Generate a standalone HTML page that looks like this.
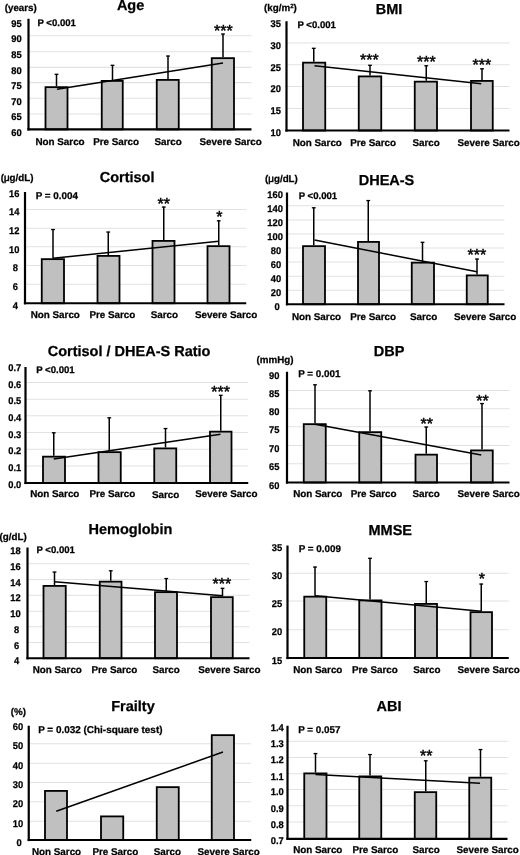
<!DOCTYPE html>
<html><head><meta charset="utf-8"><title>Sarcopenia figure</title>
<style>
html,body{margin:0;padding:0;background:#fff;}
body{width:520px;height:855px;overflow:hidden;}
svg{display:block;will-change:transform;}
text{text-rendering:geometricPrecision;font-family:"Liberation Sans",sans-serif;font-weight:bold;fill:#000;stroke:#000;stroke-width:0.25px;}
.s{font-size:9.6px;}
.t{font-size:14.5px;}
.st{font-size:16.0px;font-weight:normal;stroke-width:0.45px;}
.c{font-size:9.85px;}
.pe{font-size:9.85px;}
.p9{font-size:9.95px;}
.k{font-size:9.75px;}
.sup{font-size:6px;}
.u{font-size:9.8px;}
.mu{font-weight:normal;stroke-width:0.5px;}
</style></head><body>
<svg width="520" height="855" viewBox="0 0 520 855">
<rect width="520" height="855" fill="#fff"/>
<g>
<line x1="28.5" y1="35.75" x2="251.5" y2="35.75" stroke="#e2e2e2" stroke-width="1.2"/>
<line x1="28.5" y1="51.75" x2="251.5" y2="51.75" stroke="#e2e2e2" stroke-width="1.2"/>
<line x1="28.5" y1="67.3" x2="251.5" y2="67.3" stroke="#e2e2e2" stroke-width="1.2"/>
<line x1="28.5" y1="82.7" x2="251.5" y2="82.7" stroke="#e2e2e2" stroke-width="1.2"/>
<line x1="28.5" y1="98.25" x2="251.5" y2="98.25" stroke="#e2e2e2" stroke-width="1.2"/>
<line x1="28.5" y1="114" x2="251.5" y2="114" stroke="#e2e2e2" stroke-width="1.2"/>
<rect x="45.5" y="87.15" width="22" height="42.25" fill="#c0c0c0" stroke="#000" stroke-width="1.8"/>
<rect x="101.75" y="80.9" width="21" height="48.5" fill="#c0c0c0" stroke="#000" stroke-width="1.8"/>
<rect x="156.75" y="79.9" width="22" height="49.5" fill="#c0c0c0" stroke="#000" stroke-width="1.8"/>
<rect x="211.75" y="58.15" width="22.25" height="71.25" fill="#c0c0c0" stroke="#000" stroke-width="1.8"/>
<line x1="56.5" y1="86.25" x2="56.5" y2="74" stroke="#000" stroke-width="1.5"/>
<line x1="54.6" y1="74.3" x2="58.4" y2="74.3" stroke="#000" stroke-width="1.3"/>
<line x1="112.5" y1="80" x2="112.5" y2="65" stroke="#000" stroke-width="1.5"/>
<line x1="110.6" y1="65.3" x2="114.4" y2="65.3" stroke="#000" stroke-width="1.3"/>
<line x1="168" y1="79" x2="168" y2="55.75" stroke="#000" stroke-width="1.5"/>
<line x1="166.1" y1="56.05" x2="169.9" y2="56.05" stroke="#000" stroke-width="1.3"/>
<line x1="223" y1="57.25" x2="223" y2="33.75" stroke="#000" stroke-width="1.5"/>
<line x1="221.1" y1="34.05" x2="224.9" y2="34.05" stroke="#000" stroke-width="1.3"/>
<line x1="57" y1="89.25" x2="223" y2="63" stroke="#000" stroke-width="1.5"/>
<line x1="28.5" y1="18.75" x2="28.5" y2="130.5" stroke="#000" stroke-width="2.2"/>
<line x1="27.4" y1="129.4" x2="251.5" y2="129.4" stroke="#000" stroke-width="2.2"/>
<text transform="translate(21.7,26.81) scale(0.96,1)" text-anchor="end" class="k">95</text>
<text transform="translate(21.7,42.06) scale(0.96,1)" text-anchor="end" class="k">90</text>
<text transform="translate(21.7,58.06) scale(0.96,1)" text-anchor="end" class="k">85</text>
<text transform="translate(21.7,73.61) scale(0.96,1)" text-anchor="end" class="k">80</text>
<text transform="translate(21.7,89.01) scale(0.96,1)" text-anchor="end" class="k">75</text>
<text transform="translate(21.7,104.56) scale(0.96,1)" text-anchor="end" class="k">70</text>
<text transform="translate(21.7,120.31) scale(0.96,1)" text-anchor="end" class="k">65</text>
<text transform="translate(21.7,135.71) scale(0.96,1)" text-anchor="end" class="k">60</text>
<text x="214.1" y="35.51" class="st">***</text>
<text x="37.4" y="26.1" class="s">P <0.001</text>
<text x="130.6" y="10.1" text-anchor="middle" class="t">Age</text>
<text x="4.7" y="10.71" class="u">(years)</text>
<text x="35.4" y="144.93" class="c">Non Sarco</text>
<text x="93.15" y="144.93" class="c">Pre Sarco</text>
<text x="154.4" y="144.93" class="c">Sarco</text>
<text x="199.4" y="144.93" class="c">Severe Sarco</text>
</g>
<g>
<line x1="286.5" y1="43" x2="509.5" y2="43" stroke="#e2e2e2" stroke-width="1.2"/>
<line x1="286.5" y1="64.75" x2="509.5" y2="64.75" stroke="#e2e2e2" stroke-width="1.2"/>
<line x1="286.5" y1="86.5" x2="509.5" y2="86.5" stroke="#e2e2e2" stroke-width="1.2"/>
<line x1="286.5" y1="108.5" x2="509.5" y2="108.5" stroke="#e2e2e2" stroke-width="1.2"/>
<rect x="303" y="62.65" width="22.25" height="67.85" fill="#c0c0c0" stroke="#000" stroke-width="1.8"/>
<rect x="358.75" y="76.4" width="22.5" height="54.1" fill="#c0c0c0" stroke="#000" stroke-width="1.8"/>
<rect x="414.75" y="81.65" width="22.25" height="48.85" fill="#c0c0c0" stroke="#000" stroke-width="1.8"/>
<rect x="471" y="80.9" width="21.75" height="49.6" fill="#c0c0c0" stroke="#000" stroke-width="1.8"/>
<line x1="313.75" y1="61.75" x2="313.75" y2="48" stroke="#000" stroke-width="1.5"/>
<line x1="311.85" y1="48.3" x2="315.65" y2="48.3" stroke="#000" stroke-width="1.3"/>
<line x1="370" y1="75.5" x2="370" y2="65" stroke="#000" stroke-width="1.5"/>
<line x1="368.1" y1="65.3" x2="371.9" y2="65.3" stroke="#000" stroke-width="1.3"/>
<line x1="426.25" y1="80.75" x2="426.25" y2="65.5" stroke="#000" stroke-width="1.5"/>
<line x1="424.35" y1="65.8" x2="428.15" y2="65.8" stroke="#000" stroke-width="1.3"/>
<line x1="482" y1="80" x2="482" y2="68.5" stroke="#000" stroke-width="1.5"/>
<line x1="480.1" y1="68.8" x2="483.9" y2="68.8" stroke="#000" stroke-width="1.3"/>
<line x1="314.5" y1="65.75" x2="481.25" y2="83.75" stroke="#000" stroke-width="1.5"/>
<line x1="286.5" y1="21.25" x2="286.5" y2="131.6" stroke="#000" stroke-width="2.2"/>
<line x1="285.4" y1="130.5" x2="509.5" y2="130.5" stroke="#000" stroke-width="2.2"/>
<text transform="translate(280.85,27.16) scale(0.96,1)" text-anchor="end" class="k">35</text>
<text transform="translate(280.85,48.91) scale(0.96,1)" text-anchor="end" class="k">30</text>
<text transform="translate(280.85,70.66) scale(0.96,1)" text-anchor="end" class="k">25</text>
<text transform="translate(280.85,92.41) scale(0.96,1)" text-anchor="end" class="k">20</text>
<text transform="translate(280.85,114.41) scale(0.96,1)" text-anchor="end" class="k">15</text>
<text transform="translate(280.85,136.41) scale(0.96,1)" text-anchor="end" class="k">10</text>
<text x="360" y="65.01" class="st">***</text>
<text x="417" y="66.76" class="st">***</text>
<text x="472.5" y="69.76" class="st">***</text>
<text x="297.4" y="27.85" class="s">P <0.001</text>
<text x="389.1" y="14.25" text-anchor="middle" class="t">BMI</text>
<text x="264" y="10.96" class="u">(kg/m<tspan class="sup" dy="-2.8">2</tspan><tspan dy="2.8">)</tspan></text>
<text x="292.65" y="146.43" class="c">Non Sarco</text>
<text x="350.15" y="146.43" class="c">Pre Sarco</text>
<text x="412.4" y="146.43" class="c">Sarco</text>
<text x="457.4" y="146.43" class="c">Severe Sarco</text>
</g>
<g>
<line x1="25" y1="209.5" x2="246.25" y2="209.5" stroke="#e2e2e2" stroke-width="1.2"/>
<line x1="25" y1="228.25" x2="246.25" y2="228.25" stroke="#e2e2e2" stroke-width="1.2"/>
<line x1="25" y1="246.75" x2="246.25" y2="246.75" stroke="#e2e2e2" stroke-width="1.2"/>
<line x1="25" y1="265.5" x2="246.25" y2="265.5" stroke="#e2e2e2" stroke-width="1.2"/>
<line x1="25" y1="284.25" x2="246.25" y2="284.25" stroke="#e2e2e2" stroke-width="1.2"/>
<rect x="41.75" y="259.15" width="22.25" height="44.1" fill="#c0c0c0" stroke="#000" stroke-width="1.8"/>
<rect x="97.5" y="255.9" width="22" height="47.35" fill="#c0c0c0" stroke="#000" stroke-width="1.8"/>
<rect x="152.5" y="240.9" width="22" height="62.35" fill="#c0c0c0" stroke="#000" stroke-width="1.8"/>
<rect x="207.5" y="246.15" width="22" height="57.1" fill="#c0c0c0" stroke="#000" stroke-width="1.8"/>
<line x1="53" y1="258.25" x2="53" y2="229.25" stroke="#000" stroke-width="1.5"/>
<line x1="51.1" y1="229.55" x2="54.9" y2="229.55" stroke="#000" stroke-width="1.3"/>
<line x1="108.25" y1="255" x2="108.25" y2="231.75" stroke="#000" stroke-width="1.5"/>
<line x1="106.35" y1="232.05" x2="110.15" y2="232.05" stroke="#000" stroke-width="1.3"/>
<line x1="163.75" y1="240" x2="163.75" y2="206.75" stroke="#000" stroke-width="1.5"/>
<line x1="161.85" y1="207.05" x2="165.65" y2="207.05" stroke="#000" stroke-width="1.3"/>
<line x1="218.75" y1="245.25" x2="218.75" y2="220.5" stroke="#000" stroke-width="1.5"/>
<line x1="216.85" y1="220.8" x2="220.65" y2="220.8" stroke="#000" stroke-width="1.3"/>
<line x1="53" y1="258.25" x2="218.75" y2="241.25" stroke="#000" stroke-width="1.5"/>
<line x1="25" y1="192" x2="25" y2="304.35" stroke="#000" stroke-width="2.2"/>
<line x1="23.9" y1="303.25" x2="246.25" y2="303.25" stroke="#000" stroke-width="2.2"/>
<text transform="translate(19.55,196.66) scale(0.96,1)" text-anchor="end" class="k">16</text>
<text transform="translate(19.55,215.41) scale(0.96,1)" text-anchor="end" class="k">14</text>
<text transform="translate(19.55,234.16) scale(0.96,1)" text-anchor="end" class="k">12</text>
<text transform="translate(19.55,252.66) scale(0.96,1)" text-anchor="end" class="k">10</text>
<text transform="translate(17.85,271.41) scale(0.96,1)" text-anchor="end" class="k">8</text>
<text transform="translate(17.85,290.16) scale(0.96,1)" text-anchor="end" class="k">6</text>
<text transform="translate(17.85,309.16) scale(0.96,1)" text-anchor="end" class="k">4</text>
<text x="157.5" y="208.51" class="st">**</text>
<text x="216.25" y="221.76" class="st">*</text>
<text x="35.65" y="198.6" class="pe">P = 0.004</text>
<text x="127.1" y="182" text-anchor="middle" class="t">Cortisol</text>
<text x="0.7" y="180.71" class="u">(<tspan class="mu">μ</tspan>g/dL)</text>
<text x="30.65" y="318.43" class="c">Non Sarco</text>
<text x="89.4" y="318.43" class="c">Pre Sarco</text>
<text x="150.65" y="318.43" class="c">Sarco</text>
<text x="194.9" y="318.43" class="c">Severe Sarco</text>
</g>
<g>
<line x1="287" y1="205.75" x2="504.5" y2="205.75" stroke="#e2e2e2" stroke-width="1.2"/>
<line x1="287" y1="220" x2="504.5" y2="220" stroke="#e2e2e2" stroke-width="1.2"/>
<line x1="287" y1="234" x2="504.5" y2="234" stroke="#e2e2e2" stroke-width="1.2"/>
<line x1="287" y1="248" x2="504.5" y2="248" stroke="#e2e2e2" stroke-width="1.2"/>
<line x1="287" y1="262" x2="504.5" y2="262" stroke="#e2e2e2" stroke-width="1.2"/>
<line x1="287" y1="276.25" x2="504.5" y2="276.25" stroke="#e2e2e2" stroke-width="1.2"/>
<line x1="287" y1="290.25" x2="504.5" y2="290.25" stroke="#e2e2e2" stroke-width="1.2"/>
<rect x="303" y="246.15" width="22" height="58.1" fill="#c0c0c0" stroke="#000" stroke-width="1.8"/>
<rect x="358" y="241.9" width="21" height="62.35" fill="#c0c0c0" stroke="#000" stroke-width="1.8"/>
<rect x="411.75" y="262.65" width="22.25" height="41.6" fill="#c0c0c0" stroke="#000" stroke-width="1.8"/>
<rect x="466.75" y="275.4" width="21" height="28.85" fill="#c0c0c0" stroke="#000" stroke-width="1.8"/>
<line x1="313.75" y1="245.25" x2="313.75" y2="207.5" stroke="#000" stroke-width="1.5"/>
<line x1="311.85" y1="207.8" x2="315.65" y2="207.8" stroke="#000" stroke-width="1.3"/>
<line x1="368.25" y1="241" x2="368.25" y2="200.25" stroke="#000" stroke-width="1.5"/>
<line x1="366.35" y1="200.55" x2="370.15" y2="200.55" stroke="#000" stroke-width="1.3"/>
<line x1="422.5" y1="261.75" x2="422.5" y2="242" stroke="#000" stroke-width="1.5"/>
<line x1="420.6" y1="242.3" x2="424.4" y2="242.3" stroke="#000" stroke-width="1.3"/>
<line x1="477" y1="274.5" x2="477" y2="258.75" stroke="#000" stroke-width="1.5"/>
<line x1="475.1" y1="259.05" x2="478.9" y2="259.05" stroke="#000" stroke-width="1.3"/>
<line x1="314.5" y1="240" x2="477" y2="271.75" stroke="#000" stroke-width="1.5"/>
<line x1="287" y1="192.5" x2="287" y2="305.35" stroke="#000" stroke-width="2.2"/>
<line x1="285.9" y1="304.25" x2="504.5" y2="304.25" stroke="#000" stroke-width="2.2"/>
<text transform="translate(283,197.86) scale(0.96,1)" text-anchor="end" class="k">160</text>
<text transform="translate(283,211.86) scale(0.96,1)" text-anchor="end" class="k">140</text>
<text transform="translate(283,226.11) scale(0.96,1)" text-anchor="end" class="k">120</text>
<text transform="translate(283,240.11) scale(0.96,1)" text-anchor="end" class="k">100</text>
<text transform="translate(281.3,254.11) scale(0.96,1)" text-anchor="end" class="k">80</text>
<text transform="translate(281.3,268.11) scale(0.96,1)" text-anchor="end" class="k">60</text>
<text transform="translate(281.3,282.36) scale(0.96,1)" text-anchor="end" class="k">40</text>
<text transform="translate(281.3,296.36) scale(0.96,1)" text-anchor="end" class="k">20</text>
<text transform="translate(279.6,310.36) scale(0.96,1)" text-anchor="end" class="k">0</text>
<text x="467.5" y="260.01" class="st">***</text>
<text x="298.65" y="199.1" class="s">P <0.001</text>
<text x="386.5" y="185" text-anchor="middle" class="t">DHEA-S</text>
<text x="265" y="181.96" class="u">(<tspan class="mu">μ</tspan>g/dL)</text>
<text x="291.9" y="319.68" class="c">Non Sarco</text>
<text x="350.15" y="319.68" class="c">Pre Sarco</text>
<text x="409.9" y="319.68" class="c">Sarco</text>
<text x="453.9" y="319.68" class="c">Severe Sarco</text>
</g>
<g>
<line x1="25.5" y1="382.5" x2="248.25" y2="382.5" stroke="#e2e2e2" stroke-width="1.2"/>
<line x1="25.5" y1="399.25" x2="248.25" y2="399.25" stroke="#e2e2e2" stroke-width="1.2"/>
<line x1="25.5" y1="415.75" x2="248.25" y2="415.75" stroke="#e2e2e2" stroke-width="1.2"/>
<line x1="25.5" y1="432.5" x2="248.25" y2="432.5" stroke="#e2e2e2" stroke-width="1.2"/>
<line x1="25.5" y1="449.25" x2="248.25" y2="449.25" stroke="#e2e2e2" stroke-width="1.2"/>
<line x1="25.5" y1="466" x2="248.25" y2="466" stroke="#e2e2e2" stroke-width="1.2"/>
<rect x="43" y="456.65" width="22" height="26.35" fill="#c0c0c0" stroke="#000" stroke-width="1.8"/>
<rect x="98.5" y="452.15" width="22.25" height="30.85" fill="#c0c0c0" stroke="#000" stroke-width="1.8"/>
<rect x="154.25" y="448.4" width="22" height="34.6" fill="#c0c0c0" stroke="#000" stroke-width="1.8"/>
<rect x="210" y="431.65" width="21.5" height="51.35" fill="#c0c0c0" stroke="#000" stroke-width="1.8"/>
<line x1="53.75" y1="455.75" x2="53.75" y2="432.5" stroke="#000" stroke-width="1.5"/>
<line x1="51.85" y1="432.8" x2="55.65" y2="432.8" stroke="#000" stroke-width="1.3"/>
<line x1="109.25" y1="451.25" x2="109.25" y2="417.5" stroke="#000" stroke-width="1.5"/>
<line x1="107.35" y1="417.8" x2="111.15" y2="417.8" stroke="#000" stroke-width="1.3"/>
<line x1="165.5" y1="447.5" x2="165.5" y2="428.25" stroke="#000" stroke-width="1.5"/>
<line x1="163.6" y1="428.55" x2="167.4" y2="428.55" stroke="#000" stroke-width="1.3"/>
<line x1="220.75" y1="430.75" x2="220.75" y2="395" stroke="#000" stroke-width="1.5"/>
<line x1="218.85" y1="395.3" x2="222.65" y2="395.3" stroke="#000" stroke-width="1.3"/>
<line x1="53.75" y1="459" x2="220.5" y2="434.25" stroke="#000" stroke-width="1.5"/>
<line x1="25.5" y1="367" x2="25.5" y2="484.1" stroke="#000" stroke-width="2.2"/>
<line x1="24.4" y1="483" x2="248.25" y2="483" stroke="#000" stroke-width="2.2"/>
<text transform="translate(21.25,371.16) scale(0.96,1)" text-anchor="end" class="k">0.7</text>
<text transform="translate(21.25,387.66) scale(0.96,1)" text-anchor="end" class="k">0.6</text>
<text transform="translate(21.25,404.41) scale(0.96,1)" text-anchor="end" class="k">0.5</text>
<text transform="translate(21.25,420.91) scale(0.96,1)" text-anchor="end" class="k">0.4</text>
<text transform="translate(21.25,437.66) scale(0.96,1)" text-anchor="end" class="k">0.3</text>
<text transform="translate(21.25,454.41) scale(0.96,1)" text-anchor="end" class="k">0.2</text>
<text transform="translate(21.25,471.16) scale(0.96,1)" text-anchor="end" class="k">0.1</text>
<text transform="translate(21.25,488.16) scale(0.96,1)" text-anchor="end" class="k">0.0</text>
<text x="211.25" y="396.76" class="st">***</text>
<text x="36.15" y="373.35" class="s">P <0.001</text>
<text x="129.1" y="355.5" text-anchor="middle" class="t">Cortisol / DHEA-S Ratio</text>
<text x="30.15" y="497.18" class="c">Non Sarco</text>
<text x="89.4" y="497.18" class="c">Pre Sarco</text>
<text x="151.9" y="497.88" class="c">Sarco</text>
<text x="195.15" y="497.18" class="c">Severe Sarco</text>
</g>
<g>
<line x1="287" y1="390.5" x2="509.5" y2="390.5" stroke="#e2e2e2" stroke-width="1.2"/>
<line x1="287" y1="408.75" x2="509.5" y2="408.75" stroke="#e2e2e2" stroke-width="1.2"/>
<line x1="287" y1="426.75" x2="509.5" y2="426.75" stroke="#e2e2e2" stroke-width="1.2"/>
<line x1="287" y1="445.5" x2="509.5" y2="445.5" stroke="#e2e2e2" stroke-width="1.2"/>
<line x1="287" y1="463.75" x2="509.5" y2="463.75" stroke="#e2e2e2" stroke-width="1.2"/>
<rect x="303.75" y="424.15" width="22" height="58.35" fill="#c0c0c0" stroke="#000" stroke-width="1.8"/>
<rect x="359.25" y="432.15" width="22" height="50.35" fill="#c0c0c0" stroke="#000" stroke-width="1.8"/>
<rect x="415.5" y="454.65" width="21.5" height="27.85" fill="#c0c0c0" stroke="#000" stroke-width="1.8"/>
<rect x="471" y="450.4" width="21.75" height="32.1" fill="#c0c0c0" stroke="#000" stroke-width="1.8"/>
<line x1="315" y1="423.25" x2="315" y2="384.5" stroke="#000" stroke-width="1.5"/>
<line x1="313.1" y1="384.8" x2="316.9" y2="384.8" stroke="#000" stroke-width="1.3"/>
<line x1="370" y1="431.25" x2="370" y2="390.5" stroke="#000" stroke-width="1.5"/>
<line x1="368.1" y1="390.8" x2="371.9" y2="390.8" stroke="#000" stroke-width="1.3"/>
<line x1="426.25" y1="453.75" x2="426.25" y2="426.75" stroke="#000" stroke-width="1.5"/>
<line x1="424.35" y1="427.05" x2="428.15" y2="427.05" stroke="#000" stroke-width="1.3"/>
<line x1="482" y1="449.5" x2="482" y2="403.25" stroke="#000" stroke-width="1.5"/>
<line x1="480.1" y1="403.55" x2="483.9" y2="403.55" stroke="#000" stroke-width="1.3"/>
<line x1="315" y1="424.25" x2="481.25" y2="455" stroke="#000" stroke-width="1.5"/>
<line x1="287" y1="371.75" x2="287" y2="483.6" stroke="#000" stroke-width="2.2"/>
<line x1="285.9" y1="482.5" x2="509.5" y2="482.5" stroke="#000" stroke-width="2.2"/>
<text transform="translate(279.55,378.56) scale(0.96,1)" text-anchor="end" class="k">90</text>
<text transform="translate(279.55,396.81) scale(0.96,1)" text-anchor="end" class="k">85</text>
<text transform="translate(279.55,415.06) scale(0.96,1)" text-anchor="end" class="k">80</text>
<text transform="translate(279.55,433.06) scale(0.96,1)" text-anchor="end" class="k">75</text>
<text transform="translate(279.55,451.81) scale(0.96,1)" text-anchor="end" class="k">70</text>
<text transform="translate(279.55,470.06) scale(0.96,1)" text-anchor="end" class="k">65</text>
<text transform="translate(279.55,488.81) scale(0.96,1)" text-anchor="end" class="k">60</text>
<text x="420.5" y="428.51" class="st">**</text>
<text x="476.25" y="405.51" class="st">**</text>
<text x="298.15" y="377.1" class="pe">P = 0.001</text>
<text x="389.1" y="355.5" text-anchor="middle" class="t">DBP</text>
<text x="256.5" y="362.96" class="u">(mmHg)</text>
<text x="293.15" y="497.18" class="c">Non Sarco</text>
<text x="350.65" y="497.18" class="c">Pre Sarco</text>
<text x="412.4" y="497.18" class="c">Sarco</text>
<text x="457.4" y="497.18" class="c">Severe Sarco</text>
</g>
<g>
<line x1="27.5" y1="563.75" x2="249.5" y2="563.75" stroke="#e2e2e2" stroke-width="1.2"/>
<line x1="27.5" y1="579.5" x2="249.5" y2="579.5" stroke="#e2e2e2" stroke-width="1.2"/>
<line x1="27.5" y1="595.25" x2="249.5" y2="595.25" stroke="#e2e2e2" stroke-width="1.2"/>
<line x1="27.5" y1="611.25" x2="249.5" y2="611.25" stroke="#e2e2e2" stroke-width="1.2"/>
<line x1="27.5" y1="626.75" x2="249.5" y2="626.75" stroke="#e2e2e2" stroke-width="1.2"/>
<line x1="27.5" y1="642.5" x2="249.5" y2="642.5" stroke="#e2e2e2" stroke-width="1.2"/>
<rect x="43.5" y="585.9" width="22.25" height="72.35" fill="#c0c0c0" stroke="#000" stroke-width="1.8"/>
<rect x="99.75" y="581.65" width="21.75" height="76.6" fill="#c0c0c0" stroke="#000" stroke-width="1.8"/>
<rect x="155" y="592.15" width="22" height="66.1" fill="#c0c0c0" stroke="#000" stroke-width="1.8"/>
<rect x="211" y="597.15" width="21.75" height="61.1" fill="#c0c0c0" stroke="#000" stroke-width="1.8"/>
<line x1="54.5" y1="585" x2="54.5" y2="571.75" stroke="#000" stroke-width="1.5"/>
<line x1="52.6" y1="572.05" x2="56.4" y2="572.05" stroke="#000" stroke-width="1.3"/>
<line x1="110.75" y1="580.75" x2="110.75" y2="570.5" stroke="#000" stroke-width="1.5"/>
<line x1="108.85" y1="570.8" x2="112.65" y2="570.8" stroke="#000" stroke-width="1.3"/>
<line x1="166.25" y1="591.25" x2="166.25" y2="578.25" stroke="#000" stroke-width="1.5"/>
<line x1="164.35" y1="578.55" x2="168.15" y2="578.55" stroke="#000" stroke-width="1.3"/>
<line x1="222.5" y1="596.25" x2="222.5" y2="588" stroke="#000" stroke-width="1.5"/>
<line x1="220.6" y1="588.3" x2="224.4" y2="588.3" stroke="#000" stroke-width="1.3"/>
<line x1="54.5" y1="581.75" x2="222.5" y2="595.75" stroke="#000" stroke-width="1.5"/>
<line x1="27.5" y1="547.5" x2="27.5" y2="659.35" stroke="#000" stroke-width="2.2"/>
<line x1="26.4" y1="658.25" x2="249.5" y2="658.25" stroke="#000" stroke-width="2.2"/>
<text transform="translate(20.8,554.01) scale(0.96,1)" text-anchor="end" class="k">18</text>
<text transform="translate(20.8,569.76) scale(0.96,1)" text-anchor="end" class="k">16</text>
<text transform="translate(20.8,585.51) scale(0.96,1)" text-anchor="end" class="k">14</text>
<text transform="translate(20.8,601.26) scale(0.96,1)" text-anchor="end" class="k">12</text>
<text transform="translate(20.8,617.26) scale(0.96,1)" text-anchor="end" class="k">10</text>
<text transform="translate(19.1,632.76) scale(0.96,1)" text-anchor="end" class="k">8</text>
<text transform="translate(19.1,648.51) scale(0.96,1)" text-anchor="end" class="k">6</text>
<text transform="translate(19.1,664.26) scale(0.96,1)" text-anchor="end" class="k">4</text>
<text x="212.5" y="589.26" class="st">***</text>
<text x="36.4" y="553.35" class="s">P <0.001</text>
<text x="130.4" y="533.75" text-anchor="middle" class="t">Hemoglobin</text>
<text x="-0.5" y="539.96" class="u">(g/dL)</text>
<text x="32.65" y="673.43" class="c">Non Sarco</text>
<text x="91.4" y="673.43" class="c">Pre Sarco</text>
<text x="152.4" y="673.43" class="c">Sarco</text>
<text x="198.15" y="673.43" class="c">Severe Sarco</text>
</g>
<g>
<line x1="287.5" y1="573.25" x2="508.75" y2="573.25" stroke="#e2e2e2" stroke-width="1.2"/>
<line x1="287.5" y1="601" x2="508.75" y2="601" stroke="#e2e2e2" stroke-width="1.2"/>
<line x1="287.5" y1="629.75" x2="508.75" y2="629.75" stroke="#e2e2e2" stroke-width="1.2"/>
<rect x="304.25" y="596.65" width="22" height="61.35" fill="#c0c0c0" stroke="#000" stroke-width="1.8"/>
<rect x="359.25" y="600.4" width="22.25" height="57.6" fill="#c0c0c0" stroke="#000" stroke-width="1.8"/>
<rect x="415" y="603.9" width="22" height="54.1" fill="#c0c0c0" stroke="#000" stroke-width="1.8"/>
<rect x="470.5" y="612.15" width="21.5" height="45.85" fill="#c0c0c0" stroke="#000" stroke-width="1.8"/>
<line x1="315" y1="595.75" x2="315" y2="566.75" stroke="#000" stroke-width="1.5"/>
<line x1="313.1" y1="567.05" x2="316.9" y2="567.05" stroke="#000" stroke-width="1.3"/>
<line x1="370" y1="599.5" x2="370" y2="558" stroke="#000" stroke-width="1.5"/>
<line x1="368.1" y1="558.3" x2="371.9" y2="558.3" stroke="#000" stroke-width="1.3"/>
<line x1="426.25" y1="603" x2="426.25" y2="581.25" stroke="#000" stroke-width="1.5"/>
<line x1="424.35" y1="581.55" x2="428.15" y2="581.55" stroke="#000" stroke-width="1.3"/>
<line x1="481.25" y1="611.25" x2="481.25" y2="583.75" stroke="#000" stroke-width="1.5"/>
<line x1="479.35" y1="584.05" x2="483.15" y2="584.05" stroke="#000" stroke-width="1.3"/>
<line x1="315" y1="595.75" x2="481.25" y2="611.25" stroke="#000" stroke-width="1.5"/>
<line x1="287.5" y1="545.5" x2="287.5" y2="659.1" stroke="#000" stroke-width="2.2"/>
<line x1="286.4" y1="658" x2="508.75" y2="658" stroke="#000" stroke-width="2.2"/>
<text transform="translate(282.3,550.51) scale(0.96,1)" text-anchor="end" class="k">35</text>
<text transform="translate(282.3,578.96) scale(0.96,1)" text-anchor="end" class="k">30</text>
<text transform="translate(282.3,606.71) scale(0.96,1)" text-anchor="end" class="k">25</text>
<text transform="translate(282.3,635.46) scale(0.96,1)" text-anchor="end" class="k">20</text>
<text transform="translate(282.3,663.71) scale(0.96,1)" text-anchor="end" class="k">15</text>
<text x="478.75" y="584.26" class="st">*</text>
<text x="298.65" y="552.1" class="pe">P = 0.009</text>
<text x="390.25" y="535" text-anchor="middle" class="t">MMSE</text>
<text x="293.15" y="672.93" class="c">Non Sarco</text>
<text x="351.9" y="672.93" class="c">Pre Sarco</text>
<text x="413.15" y="672.93" class="c">Sarco</text>
<text x="457.4" y="672.93" class="c">Severe Sarco</text>
</g>
<g>
<line x1="28.75" y1="743.75" x2="251.25" y2="743.75" stroke="#e2e2e2" stroke-width="1.2"/>
<line x1="28.75" y1="763.25" x2="251.25" y2="763.25" stroke="#e2e2e2" stroke-width="1.2"/>
<line x1="28.75" y1="782.5" x2="251.25" y2="782.5" stroke="#e2e2e2" stroke-width="1.2"/>
<line x1="28.75" y1="801.75" x2="251.25" y2="801.75" stroke="#e2e2e2" stroke-width="1.2"/>
<line x1="28.75" y1="821.25" x2="251.25" y2="821.25" stroke="#e2e2e2" stroke-width="1.2"/>
<rect x="45" y="790.9" width="22" height="49.1" fill="#c0c0c0" stroke="#000" stroke-width="1.8"/>
<rect x="101" y="816.4" width="22.25" height="23.6" fill="#c0c0c0" stroke="#000" stroke-width="1.8"/>
<rect x="156.75" y="787.15" width="22" height="52.85" fill="#c0c0c0" stroke="#000" stroke-width="1.8"/>
<rect x="211.75" y="735.15" width="22.25" height="104.85" fill="#c0c0c0" stroke="#000" stroke-width="1.8"/>
<line x1="56.25" y1="811.25" x2="223" y2="752" stroke="#000" stroke-width="1.5"/>
<line x1="28.75" y1="725.75" x2="28.75" y2="841.1" stroke="#000" stroke-width="2.2"/>
<line x1="27.65" y1="840" x2="251.25" y2="840" stroke="#000" stroke-width="2.2"/>
<text transform="translate(23.3,730.11) scale(0.96,1)" text-anchor="end" class="k">60</text>
<text transform="translate(23.3,749.36) scale(0.96,1)" text-anchor="end" class="k">50</text>
<text transform="translate(23.3,768.86) scale(0.96,1)" text-anchor="end" class="k">40</text>
<text transform="translate(23.3,788.11) scale(0.96,1)" text-anchor="end" class="k">30</text>
<text transform="translate(23.3,807.36) scale(0.96,1)" text-anchor="end" class="k">20</text>
<text transform="translate(23.3,826.86) scale(0.96,1)" text-anchor="end" class="k">10</text>
<text transform="translate(21.6,845.61) scale(0.96,1)" text-anchor="end" class="k">0</text>
<text x="38.15" y="732.6" class="p9">P = 0.032 (Chi-square test)</text>
<text x="133" y="711.25" text-anchor="middle" class="t">Frailty</text>
<text x="10.75" y="714.96" class="u">(%)</text>
<text x="31.9" y="854.68" class="c">Non Sarco</text>
<text x="92.4" y="854.68" class="c">Pre Sarco</text>
<text x="153.65" y="854.68" class="c">Sarco</text>
<text x="197.4" y="854.68" class="c">Severe Sarco</text>
</g>
<g>
<line x1="287.5" y1="741.25" x2="507.5" y2="741.25" stroke="#e2e2e2" stroke-width="1.2"/>
<line x1="287.5" y1="757.5" x2="507.5" y2="757.5" stroke="#e2e2e2" stroke-width="1.2"/>
<line x1="287.5" y1="773.75" x2="507.5" y2="773.75" stroke="#e2e2e2" stroke-width="1.2"/>
<line x1="287.5" y1="789.5" x2="507.5" y2="789.5" stroke="#e2e2e2" stroke-width="1.2"/>
<line x1="287.5" y1="805.75" x2="507.5" y2="805.75" stroke="#e2e2e2" stroke-width="1.2"/>
<line x1="287.5" y1="822" x2="507.5" y2="822" stroke="#e2e2e2" stroke-width="1.2"/>
<rect x="304.25" y="773.4" width="22.25" height="65.5" fill="#c0c0c0" stroke="#000" stroke-width="1.8"/>
<rect x="359.25" y="776.4" width="22" height="62.5" fill="#c0c0c0" stroke="#000" stroke-width="1.8"/>
<rect x="414.75" y="792.15" width="21.5" height="46.75" fill="#c0c0c0" stroke="#000" stroke-width="1.8"/>
<rect x="469.25" y="777.65" width="22" height="61.25" fill="#c0c0c0" stroke="#000" stroke-width="1.8"/>
<line x1="315.5" y1="772.5" x2="315.5" y2="753.25" stroke="#000" stroke-width="1.5"/>
<line x1="313.6" y1="753.55" x2="317.4" y2="753.55" stroke="#000" stroke-width="1.3"/>
<line x1="370" y1="775.5" x2="370" y2="754.25" stroke="#000" stroke-width="1.5"/>
<line x1="368.1" y1="754.55" x2="371.9" y2="754.55" stroke="#000" stroke-width="1.3"/>
<line x1="425.75" y1="791.25" x2="425.75" y2="760.5" stroke="#000" stroke-width="1.5"/>
<line x1="423.85" y1="760.8" x2="427.65" y2="760.8" stroke="#000" stroke-width="1.3"/>
<line x1="480.5" y1="776.75" x2="480.5" y2="749.25" stroke="#000" stroke-width="1.5"/>
<line x1="478.6" y1="749.55" x2="482.4" y2="749.55" stroke="#000" stroke-width="1.3"/>
<line x1="315.5" y1="774.5" x2="480" y2="783.25" stroke="#000" stroke-width="1.5"/>
<line x1="287.5" y1="725.75" x2="287.5" y2="840" stroke="#000" stroke-width="2.2"/>
<line x1="286.4" y1="838.9" x2="507.5" y2="838.9" stroke="#000" stroke-width="2.2"/>
<text transform="translate(283.75,730.91) scale(0.96,1)" text-anchor="end" class="k">1.4</text>
<text transform="translate(283.75,747.16) scale(0.96,1)" text-anchor="end" class="k">1.3</text>
<text transform="translate(283.75,763.41) scale(0.96,1)" text-anchor="end" class="k">1.2</text>
<text transform="translate(283.75,779.66) scale(0.96,1)" text-anchor="end" class="k">1.1</text>
<text transform="translate(283.75,795.41) scale(0.96,1)" text-anchor="end" class="k">1.0</text>
<text transform="translate(283.75,811.66) scale(0.96,1)" text-anchor="end" class="k">0.9</text>
<text transform="translate(283.75,827.91) scale(0.96,1)" text-anchor="end" class="k">0.8</text>
<text transform="translate(283.75,844.16) scale(0.96,1)" text-anchor="end" class="k">0.7</text>
<text x="420" y="761.01" class="st">**</text>
<text x="298.15" y="732.85" class="pe">P = 0.057</text>
<text x="389.1" y="711.25" text-anchor="middle" class="t">ABI</text>
<text x="293.15" y="853.43" class="c">Non Sarco</text>
<text x="352.4" y="853.43" class="c">Pre Sarco</text>
<text x="412.4" y="853.43" class="c">Sarco</text>
<text x="456.4" y="853.43" class="c">Severe Sarco</text>
</g>
</svg>
</body></html>
